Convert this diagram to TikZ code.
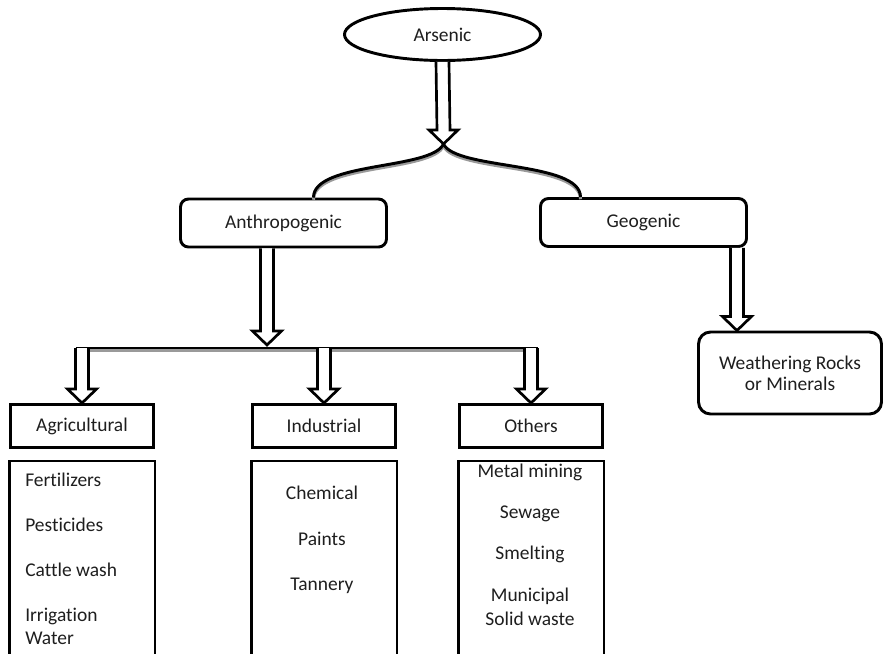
\documentclass[tikz,border=0pt]{standalone}
\usepackage{fontspec}
\setmainfont{Carlito}[Ligatures=NoCommon]
\usetikzlibrary{calc,positioning,shapes.geometric}
\usepackage{xcolor}
\definecolor{inkgrey}{HTML}{1E1E1E}
\definecolor{shadowgrey}{HTML}{9A9A9A}
\newcommand{\hollowarrow}[2]{% {from}{tip}, vertical double-line arrow
  \draw[arrowline] ($(#1)+(-6.5,0)$) -- ($(#2)+(-6.5,-14)$) -- ($(#2)+(-14.5,-14)$)
    -- (#2) -- ($(#2)+(14.5,-14)$) -- ($(#2)+(6.5,-14)$) -- ($(#1)+(6.5,0)$);
}

\begin{document}
\begin{tikzpicture}[x=0.75pt,y=-0.75pt,
  every node/.style={font=\fontsize{14.6pt}{17.5pt}\selectfont,text=inkgrey},
  headbox/.style={draw,line width=2.2pt,rounded corners=6pt,minimum width=154.5pt,minimum height=36pt},
  subbox/.style={draw,line width=2.2pt,minimum width=107.25pt,minimum height=32.25pt},
  listbox/.style={draw,line width=2.2pt},
  listtext/.style={inner sep=0pt,anchor=base},
  arrowline/.style={draw,line width=2pt,fill=white},
  forkline/.style={line width=2.2pt},
  shadowline/.style={shadowgrey,line width=2.2pt}]
  \useasboundingbox (0,0) rectangle (883,654);
  \clip (0,0) rectangle (883,654);
  % Top of the tree
  \node[ellipse,draw,line width=2.2pt,inner sep=0pt,minimum width=147pt,minimum height=39pt] (arsenic) at (442.5,34.5) {Arsenic};
  \node[headbox] (anthro) at (283.5,223) {Anthropogenic};
  \node[headbox] (geo) at (643.5,222.5) {Geogenic};
  \node[draw,line width=2.2pt,rounded corners=9pt,minimum width=137.25pt,minimum height=61.5pt,align=center,
    font=\fontsize{14.6pt}{16pt}\selectfont] (weather) at (790,373) {Weathering Rocks\\or Minerals};
  % Fork below Arsenic (grey shadow first)
  \coordinate (fork) at ($(arsenic.south)+(1,82)$);
  \foreach \style/\dy in {shadowline/2.2,forkline/0}{
    \draw[\style] ($(fork)+(0,\dy)$) .. controls +(-12,26) and +(0,-36) .. ($(anthro.north)+(30,\dy)$);
    \draw[\style] ($(fork)+(0,\dy)$) .. controls +(12,26) and +(0,-36) .. ($(geo.north)+(-63,\dy)$);
  }
  \hollowarrow{arsenic.south}{fork}
  % Sub sources
  \node[subbox] (agri) at (82,426) {Agricultural};
  \node[subbox] (indu) at (324,426) {Industrial};
  \node[subbox] (oth) at (531,426) {Others};
  \coordinate (bar) at (267,348);
  \coordinate (atop) at ($(anthro.south)+(-16.5,0)$);
  \coordinate (atip) at ($(bar)+(0,-3)$);
  \foreach \style/\dy in {shadowline/2.2,forkline/0}
    \draw[\style] ($(bar -| agri.north)+(-6.5,\dy)$) -- ($(bar -| oth.north)+(6.5,\dy)$);
  \hollowarrow{atop}{atip}
  \hollowarrow{bar -| agri.north}{agri.north}
  \hollowarrow{bar -| indu.north}{indu.north}
  \hollowarrow{bar -| oth.north}{oth.north}
  % Geogenic branch
  \coordinate (gtop) at ($(geo.south east)+(-11,0)$);
  \coordinate (gtip) at (gtop |- weather.north);
  \hollowarrow{gtop}{gtip}
  % Lists (cut off at the bottom)
  \draw[listbox] ($(agri.south west)+(0,12)$) rectangle ($(agri.south east)+(0,260)$);
  \draw[listbox] ($(indu.south west)+(0,12)$) rectangle ($(indu.south east)+(0,260)$);
  \draw[listbox] ($(oth.south west)+(0,12)$) rectangle ($(oth.south east)+(0,260)$);
  \node[listtext,anchor=base west] (fert) at (25,486) {Fertilizers};
  \node[listtext,anchor=base west] (pest) at (25,531) {Pesticides};
  \node[listtext,anchor=base west] (cattle) at (25,576) {Cattle wash};
  \node[inner sep=0pt,anchor=west,align=left,font=\fontsize{14.6pt}{17.25pt}\selectfont] (irrig) at (25,626) {Irrigation\\Water};
  \node[listtext] (chem) at (322,499) {Chemical};
  \node[listtext] (paint) at (322,545) {Paints};
  \node[listtext] (tann) at (322,590) {Tannery};
  \node[listtext] (metal) at (530,477) {Metal mining};
  \node[listtext] (sewage) at (530,518) {Sewage};
  \node[listtext] (smelt) at (530,559) {Smelting};
  \node[inner sep=0pt,align=center,font=\fontsize{14.6pt}{18pt}\selectfont] (munic) at (530,607) {Municipal\\Solid waste};
\end{tikzpicture}
\end{document}
